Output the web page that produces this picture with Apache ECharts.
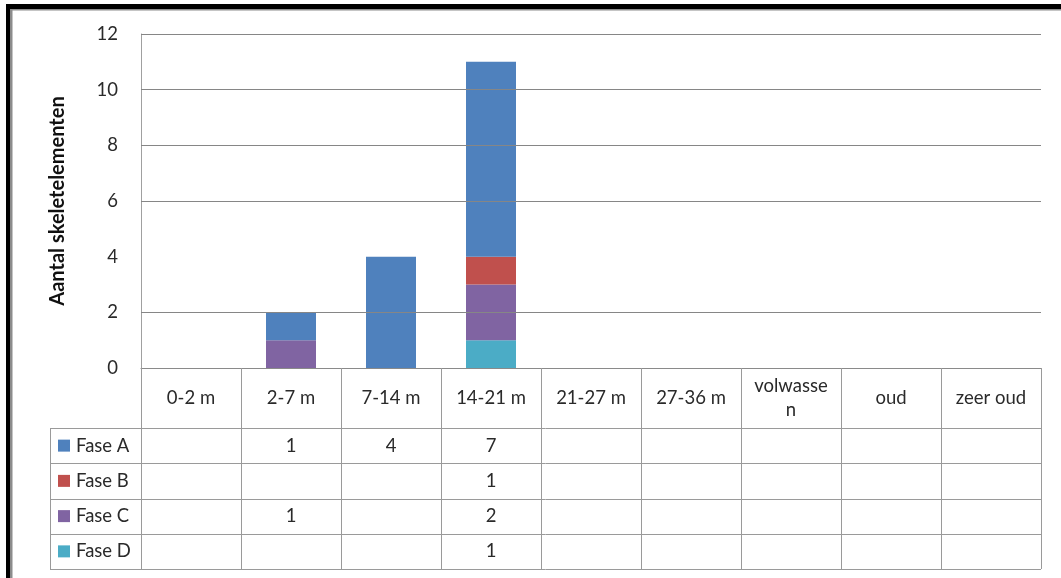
<!DOCTYPE html>
<html>
<head>
<meta charset="utf-8">
<script src="https://cdn.jsdelivr.net/npm/echarts@6/dist/echarts.min.js"></script>
<style>
  html, body { margin: 0; padding: 0; background: #fff; }
  #chart { width: 1061px; height: 578px; }
</style>
</head>
<body>
<div id="chart"></div>
<script>
// leeftijdsklassen
const categories = ['0-2 m', '2-7 m', '7-14 m', '14-21 m', '21-27 m', '27-36 m', 'volwassen', 'oud', 'zeer oud']
// aantallen per fase
const faseA = [null, 1, 4, 7, null, null, null, null, null]
const faseB = [null, null, null, 1, null, null, null, null, null]
const faseC = [null, 1, null, 2, null, null, null, null, null]
const faseD = [null, null, null, 1, null, null, null, null, null]
const seriesNames = ['Fase A', 'Fase B', 'Fase C', 'Fase D']
// y-as
const yTicks = [0, 2, 4, 6, 8, 10, 12]
const gridLines = [2, 6, 8, 10, 12] // lijn bij 4 ontbreekt in het origineel

const colors = ['#4F81BD', '#C0504D', '#8064A2', '#4BACC6']
const font = 'Lato, "Open Sans", sans-serif'
const lineGray = '#9a9a9a'
const textSize = 18.5
const textColor = '#2a2a2a'

const chart = echarts.init(document.getElementById('chart'))

const seriesData = [faseA, faseB, faseC, faseD]
// onderste fase eerst stapelen
const barSeries = [3, 2, 1, 0].map(i => ({
  name: seriesNames[i],
  type: 'bar',
  stack: 'totaal',
  barWidth: '50%',
  z: 3,
  itemStyle: { color: colors[i] },
  data: seriesData[i]
}))

const option = {
  animation: false,
  grid: { left: 141, right: 20, top: 34, bottom: 210 },
  xAxis: {
    type: 'category',
    data: categories,
    axisLine: { lineStyle: { color: '#8a8a8a', width: 1 } },
    axisTick: { show: true, interval: 0, length: 201, lineStyle: { color: lineGray } },
    axisLabel: {
      interval: 0,
      margin: 30,
      align: 'center',
      verticalAlign: 'middle',
      fontFamily: font,
      fontSize: textSize,
      color: textColor,
      width: 76,
      overflow: 'breakAll',
      lineHeight: 24
    }
  },
  yAxis: {
    type: 'value',
    min: yTicks[0],
    max: yTicks[yTicks.length - 1],
    interval: 2,
    name: 'Aantal skeletelementen',
    nameLocation: 'middle',
    nameGap: 73,
    nameTextStyle: { fontFamily: font, fontSize: 20, fontWeight: 'bold', color: '#111' },
    axisLine: { show: true, lineStyle: { color: '#a0a0a0' } },
    axisTick: { show: false },
    splitLine: { show: false },
    axisLabel: { margin: 23, fontFamily: font, fontSize: textSize, color: textColor }
  },
  series: [
    {
      // rasterlijnen
      type: 'line',
      data: [],
      z: 1,
      silent: true,
      markLine: {
        silent: true,
        symbol: 'none',
        label: { show: false },
        lineStyle: { color: '#868686', width: 1.2, type: 'solid' },
        data: gridLines.map(v => ({ yAxis: v }))
      }
    }
  ].concat(barSeries)
}
chart.setOption(option)

// datatabel onder de grafiek
function drawTable () {
  const tableTop = 428
  const tableBottom = 569
  const tableLeft = 50
  const rowH = (tableBottom - tableTop) / seriesNames.length
  const half = (chart.convertToPixel({ xAxisIndex: 0 }, categories[1]) - chart.convertToPixel({ xAxisIndex: 0 }, categories[0])) / 2
  const xRight = chart.convertToPixel({ xAxisIndex: 0 }, categories[categories.length - 1]) + half
  const els = []
  for (let r = 0; r <= seriesNames.length; r++) {
    const y = Math.round(tableTop + r * rowH) + 0.5
    els.push({ type: 'line', shape: { x1: tableLeft, y1: y, x2: xRight, y2: y }, style: { stroke: lineGray, lineWidth: 1 } })
  }
  els.push({ type: 'line', shape: { x1: tableLeft + 0.5, y1: tableTop, x2: tableLeft + 0.5, y2: tableBottom + 0.5 }, style: { stroke: lineGray, lineWidth: 1 } })
  seriesNames.forEach((name, r) => {
    const cy = tableTop + r * rowH + rowH / 2
    els.push({ type: 'rect', shape: { x: 58, y: cy - 6, width: 12, height: 12 }, style: { fill: colors[r] } })
    els.push({ type: 'text', x: 76, y: cy, style: { text: name, font: textSize + 'px ' + font, fill: textColor, verticalAlign: 'middle', align: 'left' } })
    seriesData[r].forEach((v, c) => {
      if (v == null) return
      const cx = chart.convertToPixel({ xAxisIndex: 0 }, categories[c])
      els.push({ type: 'text', x: cx, y: cy, style: { text: String(v), font: textSize + 'px ' + font, fill: textColor, verticalAlign: 'middle', align: 'center' } })
    })
  })
  // kader
  els.push({ type: 'rect', shape: { x: 6, y: 4, width: 1055, height: 5 }, style: { fill: '#000' } })
  els.push({ type: 'rect', shape: { x: 6, y: 4, width: 4, height: 574 }, style: { fill: '#000' } })
  els.push({ type: 'rect', shape: { x: 10, y: 9, width: 1051, height: 1.5 }, style: { fill: '#8c8c8c' } })
  els.push({ type: 'rect', shape: { x: 10, y: 9, width: 2.5, height: 569 }, style: { fill: '#8c8c8c' } })
  chart.setOption({ graphic: { elements: els } })
}
drawTable()
</script>
</body>
</html>
